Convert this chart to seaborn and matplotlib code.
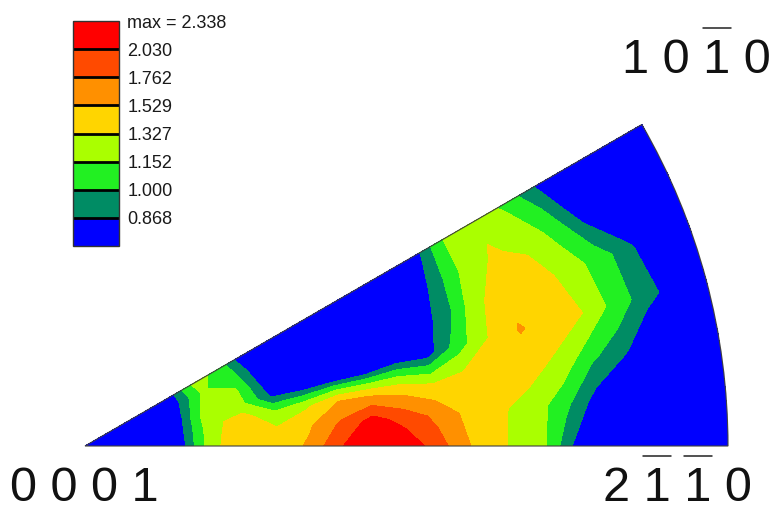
import numpy as np
import matplotlib
matplotlib.use("Agg")
import matplotlib.pyplot as plt
from matplotlib.patches import Wedge
from matplotlib.lines import Line2D
import seaborn as sns

# Inverse pole figure sampled on a polar grid:
# radius 0 = [0001] corner, radius 1 = outer arc, angle 0 = [2-1-10] edge, 30 = [10-10] edge
radius = [0.00, 0.05, 0.10, 0.15, 0.20, 0.25, 0.30, 0.35, 0.40, 0.45, 0.50,
          0.55, 0.60, 0.65, 0.70, 0.75, 0.80, 0.85, 0.90, 0.95, 1.00]
angle_deg = [0, 5, 10, 15, 20, 25, 30]

# intensity (multiples of random), one row per angle
density_00 = [0.60, 0.65, 0.72, 0.80, 1.30, 1.42, 1.38, 1.57, 2.02, 2.32, 2.25,
              1.86, 1.53, 1.335, 1.276, 0.917, 0.60, 0.55, 0.50, 0.50, 0.50]
density_05 = [0.60, 0.65, 0.72, 0.82, 1.28, 1.45, 1.35, 1.50, 1.80, 2.15, 1.90,
              1.70, 1.45, 1.35, 1.24, 1.04, 0.80, 0.60, 0.55, 0.50, 0.50]
density_10 = [0.60, 0.65, 0.72, 0.82, 1.28, 1.40, 1.18, 1.30, 1.53, 1.52, 1.45,
              1.34, 1.40, 1.45, 1.40, 1.27, 1.03, 0.90, 0.70, 0.55, 0.50]
density_15 = [0.60, 0.65, 0.72, 0.80, 1.30, 1.20, 0.85, 0.80, 0.79, 0.76, 0.85,
              0.80, 1.07, 1.33, 1.545, 1.45, 1.33, 1.10, 0.93, 0.80, 0.55]
density_20 = [0.60, 0.65, 0.72, 0.80, 1.22, 1.17, 0.75, 0.65, 0.55, 0.55, 0.55,
              0.78, 0.95, 1.29, 1.45, 1.42, 1.24, 1.08, 0.90, 0.70, 0.55]
density_25 = [0.60, 0.65, 0.72, 0.78, 1.17, 1.08, 0.70, 0.55, 0.50, 0.50, 0.50,
              0.70, 0.92, 1.20, 1.35, 1.28, 1.10, 0.82, 0.65, 0.55, 0.50]
density_30 = [0.60, 0.65, 0.72, 0.78, 1.24, 1.02, 0.60, 0.50, 0.45, 0.45, 0.50,
              0.70, 0.86, 1.20, 1.28, 1.12, 0.90, 0.65, 0.55, 0.50, 0.50]

contour_levels = [0.868, 1.000, 1.152, 1.327, 1.529, 1.762, 2.030]
max_density = 2.338
band_colors = ["#0000FF", "#008C64", "#22F022", "#AAFF00",
               "#FFD500", "#FF9000", "#FF4A00", "#FF0000"]

# Miller-Bravais indices of the corners; 1 marks a digit with an overbar
digits_0001 = ["0", "0", "0", "1"]
bars_0001 = [0, 0, 0, 0]
digits_2110 = ["2", "1", "1", "0"]
bars_2110 = [0, 1, 1, 0]
digits_1010 = ["1", "0", "1", "0"]
bars_1010 = [0, 0, 1, 0]

W, H = 772, 512


def corner_label(fig, digits, bars, x_px, base_px, ha, fs=35):
    """Write the indices and put a thin bar over the negative ones."""
    style = dict(fontsize=fs, color="#111111")
    t = fig.text(x_px / W, 1 - base_px / H, " ".join(digits), ha=ha, va="baseline", **style)
    renderer = fig.canvas.get_renderer()
    box = t.get_window_extent(renderer)

    probe = fig.text(0, 0, digits[0], **style)
    w_first = probe.get_window_extent(renderer).width
    probe.remove()
    probe = fig.text(0, 0, digits[0] + " " + digits[0], **style)
    step = probe.get_window_extent(renderer).width - w_first
    probe.remove()

    bar_w = 0.58 * fs * 100 / 72
    bar_y = 1 - (base_px - 45) / H
    for i, b in enumerate(bars):
        if b:
            cx = box.x0 + w_first / 2 + i * step
            fig.add_artist(Line2D([(cx - bar_w / 2) / W, (cx + bar_w / 2) / W], [bar_y, bar_y],
                                  transform=fig.transFigure, color="#222222", lw=1.1))


def main():
    sns.set_style("white")
    plt.rcParams["font.family"] = ["Liberation Sans", "DejaVu Sans"]

    R, T = np.meshgrid(np.array(radius), np.radians(angle_deg))
    Z = np.array([density_00, density_05, density_10, density_15,
                  density_20, density_25, density_30])
    X = R * np.cos(T)
    Y = R * np.sin(T)

    fig = plt.figure(figsize=(W / 100, H / 100), dpi=100)
    ax = fig.add_axes([0, 0, 1, 1])
    scale = 643.0  # pixels per unit radius
    ax.set_xlim(-85 / scale, (W - 85) / scale)
    ax.set_ylim(-(H - 446) / scale, 446 / scale)
    ax.axis("off")

    levels = [0.0] + contour_levels + [max_density]
    cs = ax.contourf(X, Y, Z, levels=levels, colors=band_colors)
    ax.add_patch(Wedge((0, 0), 1.0, 0, 30, fill=False, ec="#404040", lw=0.8))

    # legend bar
    cax = fig.add_axes([73 / W, 1 - 246 / H, 46 / W, 225 / H])
    cb = fig.colorbar(cs, cax=cax, drawedges=True)
    cb.set_ticks(contour_levels + [max_density])
    cb.set_ticklabels([f"{v:.3f}" for v in contour_levels] + [f"max = {max_density:.3f}"])
    cb.ax.tick_params(length=0, pad=6, labelsize=13, labelcolor="#1a1a1a")
    cb.outline.set_edgecolor("#333333")
    cb.outline.set_linewidth(1.0)
    cb.dividers.set_color("black")
    cb.dividers.set_linewidth(2.0)

    corner_label(fig, digits_0001, bars_0001, 10, 501, "left")
    corner_label(fig, digits_2110, bars_2110, 752, 501, "right")
    corner_label(fig, digits_1010, bars_1010, 771, 73, "right")

    fig.savefig("out.png", dpi=100)


if __name__ == "__main__":
    main()
